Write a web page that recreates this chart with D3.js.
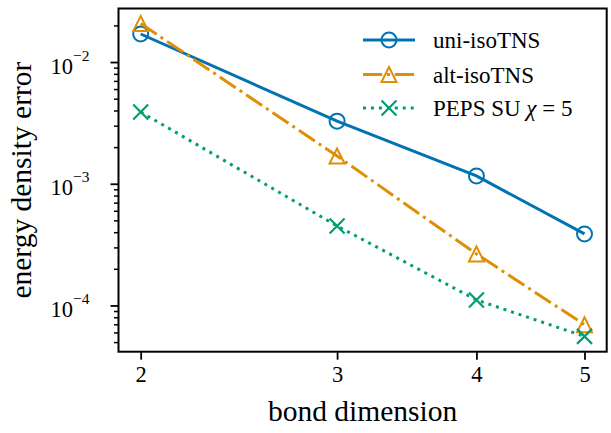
<!DOCTYPE html>
<html>
<head>
<meta charset="utf-8">
<script src="https://cdn.jsdelivr.net/npm/d3@7"></script>
<style>
  html, body { margin: 0; padding: 0; background: #fff; }
  svg { display: block; font-family: "Liberation Serif", "Times New Roman", serif; }
  svg text, svg tspan { font-family: "Liberation Serif", "Times New Roman", serif !important; }
</style>
</head>
<body>
<svg id="chart" width="611" height="433"></svg>
<script>
// ---- data ----
const bondDims = [2, 3, 4, 5];
const uniIso = [0.0170, 0.00327, 0.00116, 0.000387];
const altIso = [0.0207, 0.00169, 0.000265, 0.0000695];
const pepsSU = [0.00389, 0.00045, 0.000111, 0.0000557];
const xTickLabels = ["2", "3", "4", "5"];
const yTickExps = [-2, -3, -4];
const seriesNames = ["uni-isoTNS", "alt-isoTNS", "PEPS SU χ = 5"];
const xLabel = "bond dimension";
const yLabel = "energy density error";

// ---- layout ----
const FONT = "Liberation Serif";
const svg = d3.select("#chart");
const L = 118.5, R = 606.7, T = 8.5, B = 351.7;

const x = d3.scaleLog().domain([2 * Math.exp(-0.0458), 5 * Math.exp(0.0458)]).range([L, R]);
const y = d3.scaleLog().domain([Math.pow(10, -4.38), Math.pow(10, -1.56)]).range([B, T]);

const colors = ["#0173b2", "#de8f05", "#029e73"];
const dashes = [null, "19.2,4.8,3,4.8", "3,4.95"];
const allSeries = [uniIso, altIso, pepsSU];
const markers = ["circle", "triangle", "x"];

// ---- axes ----
const minorVals = [];
for (let e = -5; e <= -1; e++) {
  for (let m = 2; m <= 9; m++) {
    const v = m * Math.pow(10, e);
    if (v >= y.domain()[0] && v <= y.domain()[1]) minorVals.push(v);
  }
}
const yMinor = d3.axisLeft(y).tickValues(minorVals).tickSize(4.5).tickFormat("");
svg.append("g").attr("transform", `translate(${L},0)`).call(yMinor)
  .call(g => g.select(".domain").remove())
  .call(g => g.selectAll("line").attr("stroke", "#000").attr("stroke-width", 1.5));

const yMajorVals = yTickExps.map(e => Math.pow(10, e));
const yAxis = d3.axisLeft(y).tickValues(yMajorVals).tickSize(8).tickFormat("");
const yg = svg.append("g").attr("transform", `translate(${L},0)`).call(yAxis);
yg.attr("font-family", FONT).attr("font-size", null);
yg.select(".domain").remove();
yg.selectAll("line").attr("stroke", "#000").attr("stroke-width", 1.8);
yg.selectAll(".tick").each(function(d, i) {
  const t = d3.select(this).append("text")
    .attr("x", -29).attr("y", 11)
    .attr("text-anchor", "end")
    .attr("fill", "#000")
    .attr("font-family", FONT)
    .style("font-size", "22.5px");
  t.append("tspan").text("10");
  t.append("tspan").attr("dy", -13).style("font-size", "15.5px").text("\u2212" + Math.abs(yTickExps[i]));
});

const xAxis = d3.axisBottom(x).tickValues(bondDims).tickSize(8).tickFormat((d, i) => xTickLabels[i]);
const xg = svg.append("g").attr("transform", `translate(0,${B})`).call(xAxis);
xg.attr("font-family", FONT).attr("font-size", null);
xg.select(".domain").remove();
xg.selectAll("line").attr("stroke", "#000").attr("stroke-width", 1.8);
xg.selectAll("text").attr("fill", "#000").attr("y", 14).attr("dy", "0.71em")
  .attr("font-family", FONT).style("font-size", "22.5px");

// frame
svg.append("rect").attr("x", L).attr("y", T).attr("width", R - L).attr("height", B - T)
  .attr("fill", "none").attr("stroke", "#000").attr("stroke-width", 2);

// axis labels
svg.append("text").attr("x", (L + R) / 2).attr("y", 421).attr("text-anchor", "middle")
  .attr("font-family", FONT).style("font-size", "29.5px").attr("fill", "#000").text(xLabel);
svg.append("text").attr("transform", `translate(31,${(T + B) / 2}) rotate(-90)`)
  .attr("text-anchor", "middle").attr("font-family", FONT).style("font-size", "29.5px")
  .attr("fill", "#000").text(yLabel);

// ---- marker drawing ----
function drawMarker(g, type, cx, cy, color) {
  const s = 7.5;
  if (type === "circle") {
    g.append("circle").attr("cx", cx).attr("cy", cy).attr("r", s)
      .attr("fill", "none").attr("stroke", color).attr("stroke-width", 2);
  } else if (type === "triangle") {
    g.append("path").attr("d", `M${cx},${cy - s}L${cx - s},${cy + s}L${cx + s},${cy + s}Z`)
      .attr("fill", "none").attr("stroke", color).attr("stroke-width", 2).attr("stroke-linejoin", "miter");
  } else {
    g.append("path").attr("d", `M${cx - s},${cy - s}L${cx + s},${cy + s}M${cx - s},${cy + s}L${cx + s},${cy - s}`)
      .attr("fill", "none").attr("stroke", color).attr("stroke-width", 2.2);
  }
}

// ---- series ----
const line = d3.line().x((d, i) => x(bondDims[i])).y(d => y(d));
const plot = svg.append("g");
allSeries.forEach((vals, k) => {
  const p = plot.append("path").datum(vals).attr("d", line)
    .attr("fill", "none").attr("stroke", colors[k]).attr("stroke-width", 3);
  if (dashes[k]) p.attr("stroke-dasharray", dashes[k]);
  vals.forEach((v, i) => drawMarker(plot, markers[k], x(bondDims[i]), y(v), colors[k]));
});

// ---- legend ----
const legY = [40, 74.5, 108];
const lg = svg.append("g");
seriesNames.forEach((name, k) => {
  const ly = legY[k];
  const l = lg.append("line").attr("x1", 363).attr("x2", 415).attr("y1", ly).attr("y2", ly)
    .attr("stroke", colors[k]).attr("stroke-width", 3);
  if (dashes[k]) l.attr("stroke-dasharray", dashes[k]);
  drawMarker(lg, markers[k], 389, ly, colors[k]);
  const t = lg.append("text").attr("x", 433).attr("y", ly + 8).attr("font-family", FONT)
    .style("font-size", "23px").attr("fill", "#000");
  if (name.includes("χ")) {
    const parts = name.split("χ");
    t.append("tspan").text(parts[0]);
    t.append("tspan").style("font-style", "italic").text("χ");
    t.append("tspan").text(parts[1]);
  } else {
    t.text(name);
  }
});
</script>
</body>
</html>
